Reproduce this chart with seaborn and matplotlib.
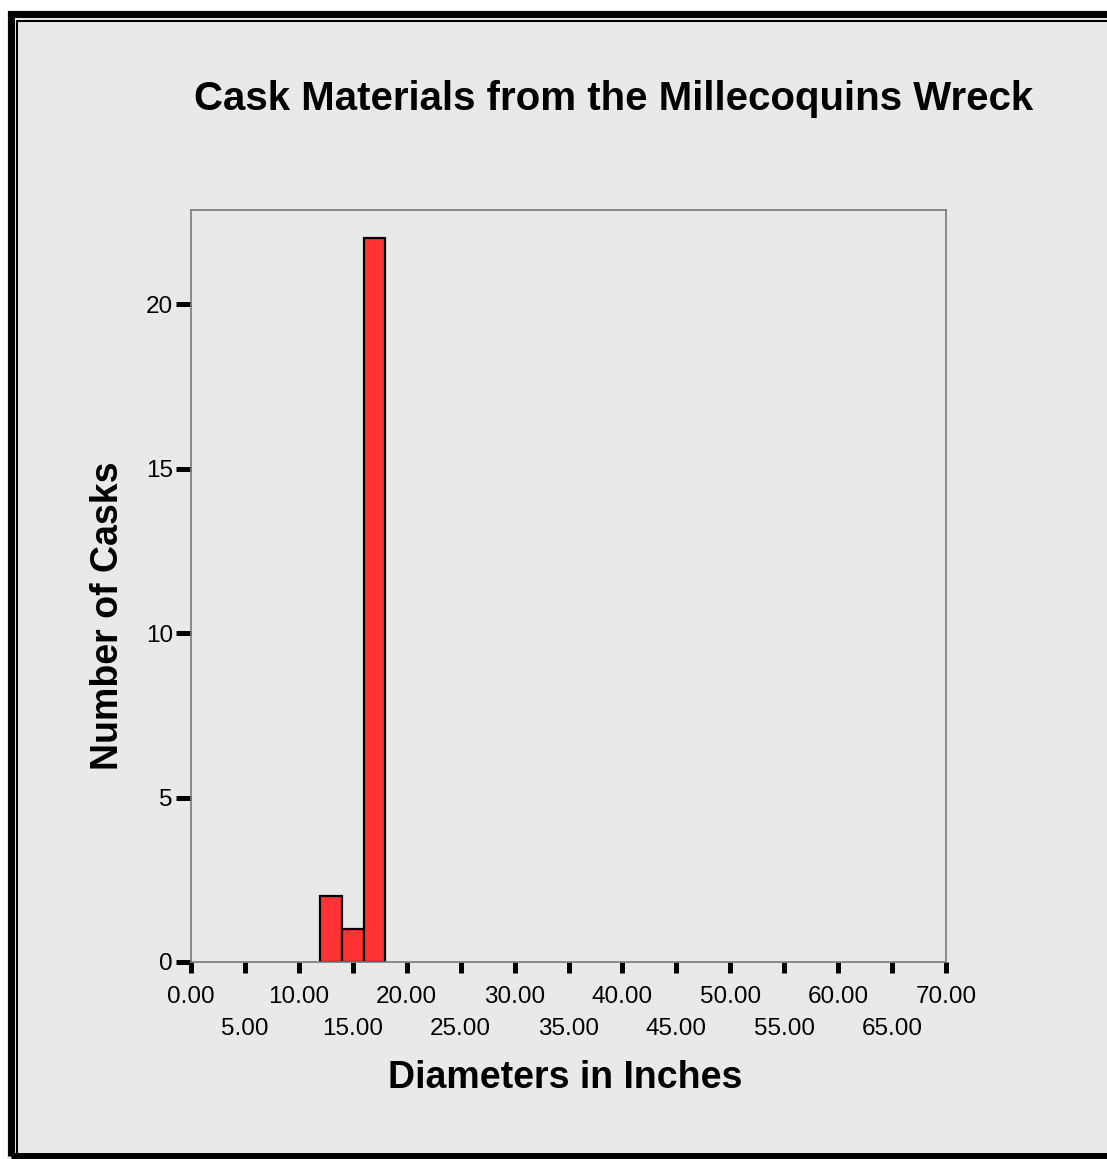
import numpy as np
import matplotlib
matplotlib.use("Agg")
import matplotlib.pyplot as plt
from matplotlib.patches import Rectangle
from matplotlib.lines import Line2D
import seaborn as sns

# histogram bins (inches) and counts
bin_edges = [12.0, 14.0, 16.0, 18.0]
counts = [2, 1, 22]
major_ticks = [0, 10, 20, 30, 40, 50, 60, 70]
minor_ticks = [5, 15, 25, 35, 45, 55, 65]
y_ticks = [0, 5, 10, 15, 20]

bg = "#E9E9E9"
W, H = 1107, 1159

sns.set_theme(style="white")
plt.rcParams['font.family'] = ['Liberation Sans', 'DejaVu Sans']
plt.rcParams['text.color'] = 'black'
plt.rcParams['xtick.color'] = 'black'
plt.rcParams['ytick.color'] = 'black'
plt.rcParams['axes.labelcolor'] = 'black'

fig = plt.figure(figsize=(W / 100, H / 100), dpi=100, facecolor="white")

def fx(px):
    return px / W

def fy(py):
    return 1 - py / H

# panel background and frame
fig.patches.append(Rectangle((fx(7), 0), 1.1, fy(10), transform=fig.transFigure,
                             facecolor=bg, edgecolor="none", zorder=-2))
fig.patches.append(Rectangle((fx(10.5), fy(1156)), 1.1, fy(13.5) - fy(1156),
                             transform=fig.transFigure, facecolor="none",
                             edgecolor="black", lw=5, zorder=-1))
fig.lines.append(Line2D([fx(17), fx(17)], [fy(20.5), 0], transform=fig.transFigure,
                        color="black", lw=1.5, zorder=-1))
fig.lines.append(Line2D([fx(17), 1.1], [fy(20.5), fy(20.5)], transform=fig.transFigure,
                        color="black", lw=1.5, zorder=-1))

ax = fig.add_axes([fx(191), fy(962), fx(946) - fx(191), fy(210) - fy(962)])
ax.set_zorder(5)
ax.set_facecolor(bg)

centers = [(a + b) / 2 for a, b in zip(bin_edges[:-1], bin_edges[1:])]
sns.histplot(x=centers, weights=counts, bins=bin_edges, ax=ax,
             color="#FF3333", alpha=1, edgecolor="black", linewidth=1.6)

ax.set_xlim(0, 70)
ax.set_ylim(0, 22.86)

for s in ax.spines.values():
    s.set_color("#7A7A7A")
    s.set_linewidth(1.2)

ax.set_yticks(y_ticks)
ax.set_yticklabels([str(v) for v in y_ticks])
ax.set_xticks(major_ticks)
ax.set_xticklabels([f"{v:.2f}" for v in major_ticks])
ax.set_xticks(minor_ticks, minor=True)
ax.set_xticklabels([f"{v:.2f}" for v in minor_ticks], minor=True)

ax.tick_params(axis="y", which="major", direction="out", length=11, width=3.6,
               color="black", labelsize=17.5, pad=2, left=True)
ax.tick_params(axis="x", which="major", direction="out", length=8, width=3.6,
               color="black", labelsize=17.5, pad=9, bottom=True)
ax.tick_params(axis="x", which="minor", direction="out", length=8, width=3.6,
               color="black", labelsize=17.5, pad=32, bottom=True)

ax.set_xlabel("Diameters in Inches", fontsize=27, fontweight="bold")
ax.set_ylabel("Number of Casks", fontsize=27, fontweight="bold")
ax.xaxis.set_label_coords(0.495, -0.130)
ax.yaxis.set_label_coords(-0.0861, 0.461)

fig.text(fx(614), fy(99), "Cask Materials from the Millecoquins Wreck",
         fontsize=29, fontweight="bold", ha="center", va="center")

fig.savefig("out.png", dpi=100, facecolor=fig.get_facecolor())
